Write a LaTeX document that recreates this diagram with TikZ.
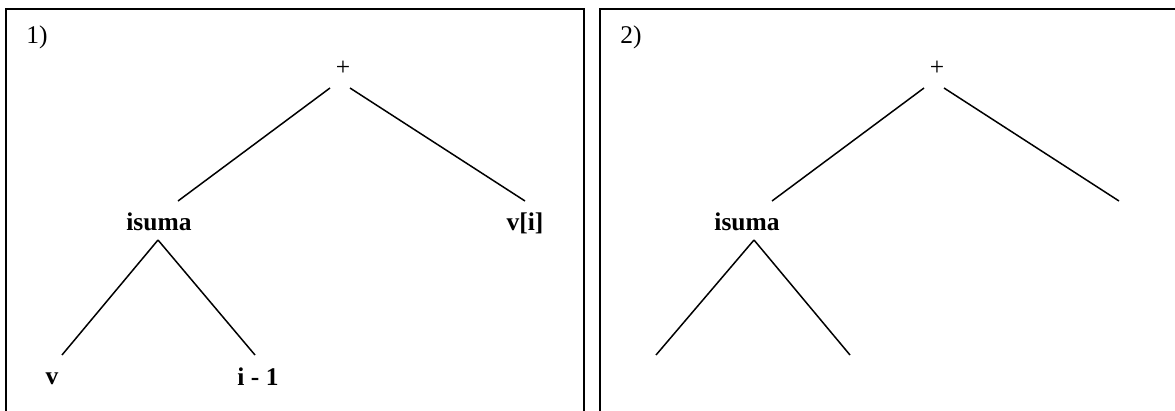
\documentclass[tikz,border=0pt]{standalone}
\usepackage{fontspec}
\setmainfont{Liberation Serif}
\begin{document}
\begin{tikzpicture}[x=1pt,y=-1pt,
  lbl/.style={font=\fontsize{25.5}{30}\selectfont\bfseries, inner sep=0pt},
  plain/.style={font=\fontsize{25.5}{30}\selectfont, inner sep=0pt},
  edge/.style={line width=1.5pt},
  frame/.style={line width=1.6pt}]
\useasboundingbox (0,0) rectangle (1175,410);
\begin{scope}
\clip (0,0) rectangle (1175,410);
\draw[frame] (6,430) -- (6,9) -- (584,9) -- (584,430);
\draw[frame] (600,430) -- (600,9) -- (1190,9);
\end{scope}
% panel 1
\node[plain] (n1) at (37,37) {1)};
\node[plain] (p1) at (343,68) {+};
\node[lbl] (is1) at (159,222) {isuma};
\node[lbl] (vi1) at (525,223) {v[i]};
\node[lbl] (v1) at (52,379) {v};
\node[lbl] (im1) at (258,377) {i - 1};
\coordinate (p1l) at (330,88);
\coordinate (p1r) at (350,88);
\coordinate (is1t) at (178,201);
\coordinate (vi1t) at (525,201);
\coordinate (is1b) at (158,240);
\coordinate (v1t) at (62,355);
\coordinate (im1t) at (255,355);
\draw[edge] (p1l) -- (is1t);
\draw[edge] (p1r) -- (vi1t);
\draw[edge] (is1b) -- (v1t);
\draw[edge] (is1b) -- (im1t);
% panel 2
\node[plain] (n2) at (631,37) {2)};
\node[plain] (p2) at (937,68) {+};
\node[lbl] (is2) at (747,222) {isuma};
\coordinate (p2l) at (924,88);
\coordinate (p2r) at (944,88);
\coordinate (is2t) at (772,201);
\coordinate (r2t) at (1119,201);
\coordinate (is2b) at (754,240);
\coordinate (l2b) at (656,355);
\coordinate (r2b) at (850,355);
\draw[edge] (p2l) -- (is2t);
\draw[edge] (p2r) -- (r2t);
\draw[edge] (is2b) -- (l2b);
\draw[edge] (is2b) -- (r2b);
\end{tikzpicture}
\end{document}
